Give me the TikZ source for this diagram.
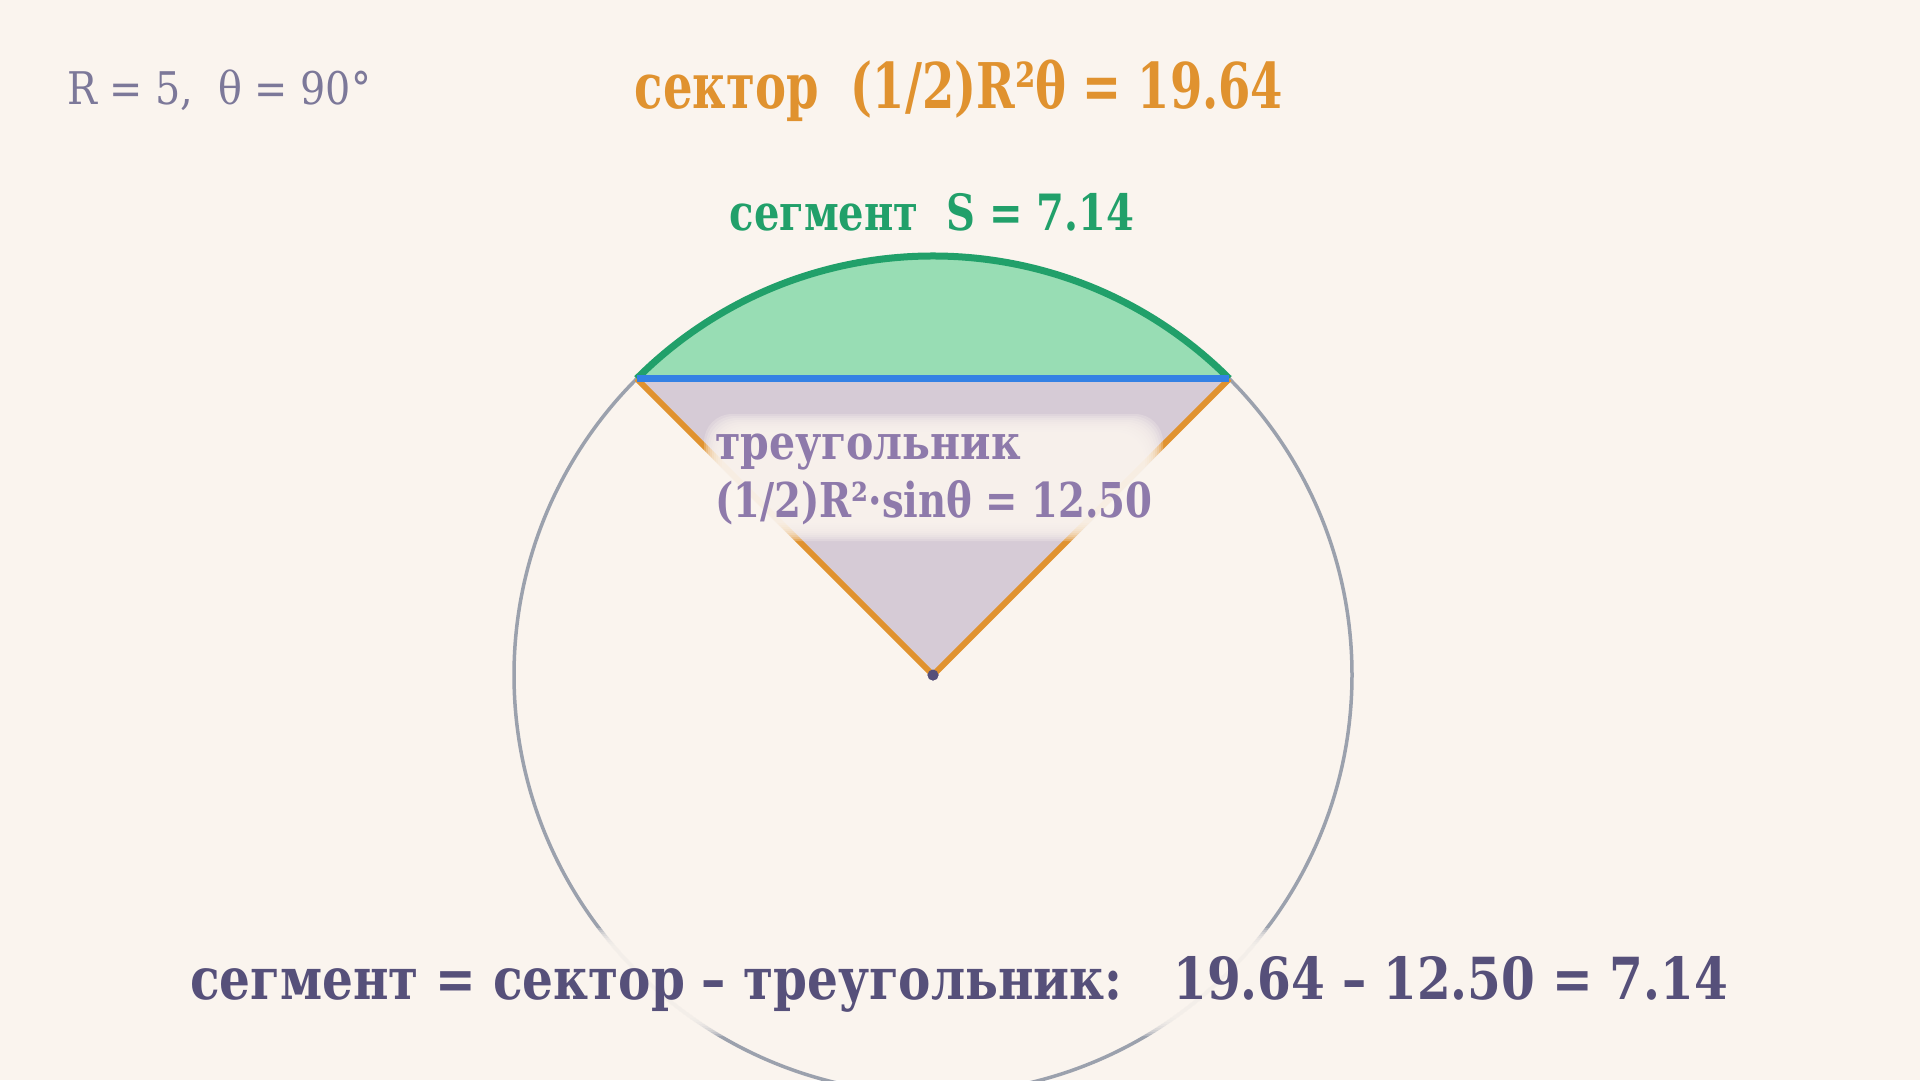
\documentclass[tikz,border=0pt]{standalone}
\usepackage{fontspec}
\usepackage{graphicx}
\setmainfont{DejaVu Serif Condensed}
\usetikzlibrary{positioning}

\definecolor{bgcol}{HTML}{FAF4EE}
\definecolor{paramcol}{HTML}{7C7899}
\definecolor{sectorcol}{HTML}{E0922F}
\definecolor{segcol}{HTML}{21A06A}
\definecolor{segfill}{HTML}{98DDB4}
\definecolor{chordcol}{HTML}{3481E4}
\definecolor{trifill}{HTML}{D6CBD6}
\definecolor{tricol}{HTML}{8E7AAB}
\definecolor{darkcol}{HTML}{56507A}
\definecolor{circcol}{HTML}{9BA1AD}

\newcommand{\squeeze}[2]{\scalebox{#1}[1]{#2}}

\tikzset{
  txt/.style={inner sep=0pt, outer sep=0pt},
  halo/.style={fill=bgcol, opacity=0.25, rounded corners=28pt},
}

\begin{document}
\begin{tikzpicture}[x=1pt, y=-1pt, line join=round]
    % Background
    \fill[bgcol] (0,0) rectangle (1920,1080);
    \clip (0,0) rectangle (1920,1080);

    \def\rad{419pt}
    % Points
    \node[circle, fill=darkcol, inner sep=0pt, minimum size=11pt] (centre) at (933,675) {};
    \coordinate (chordL) at (636.7,378.7);
    \coordinate (chordR) at (1229.3,378.7);

    % Circle
    \draw[circcol, line width=3.5pt] (centre.center) circle[radius=\rad];

    % Triangle and segment
    \fill[trifill] (centre.center) -- (chordL) -- (chordR) -- cycle;
    \fill[segfill] (chordL) arc[start angle=135, end angle=45, radius=\rad] -- cycle;
    \draw[segcol, line width=7pt] (chordL) arc[start angle=135, end angle=45, radius=\rad];
    \draw[sectorcol, line width=6pt] (chordL) -- (centre.center) -- (chordR);
    \draw[chordcol, line width=7pt] (chordL) -- (chordR);
    \fill[darkcol] (centre) circle[radius=5.5pt];

    % Halos
    \foreach \k in {0,...,9} {
        \fill[halo] ({704+2*\k},{414+2*\k}) rectangle ({1163-2*\k},{541-2*\k});
        \fill[halo] ({172+2*\k},{928+2*\k}) rectangle ({1748-2*\k},{1036-2*\k});
    }

    % Labels
    \node[txt, anchor=base west, text=paramcol, font=\fontsize{45}{54}\selectfont] (params) at (67,104) {\squeeze{0.98}{R = 5,\ \ θ = 90°}};
    \node[txt, anchor=base, text=sectorcol, font=\fontsize{63}{76}\selectfont\bfseries] (sector) at (959,108) {\squeeze{0.82}{сектор\ \ (1/2)R²θ = 19.64}};
    \node[txt, anchor=base, text=segcol, font=\fontsize{50}{60}\selectfont\bfseries] (segment) at (932,230) {\squeeze{0.89}{сегмент\ \ S = 7.14}};
    \node[txt, anchor=base west, text=tricol, font=\fontsize{48}{58}\selectfont\bfseries] (tri1) at (715,459) {\squeeze{0.95}{треугольник}};
    \node[txt, anchor=base west, text=tricol, font=\fontsize{48}{58}\selectfont\bfseries] (tri2) at (715,517) {\squeeze{0.895}{(1/2)R²·sinθ = 12.50}};
    \node[txt, anchor=base, text=darkcol, font=\fontsize{58}{70}\selectfont\bfseries] (summary) at (959,999) {\squeeze{0.93}{сегмент = сектор – треугольник:\ \ \ 19.64 – 12.50 = 7.14}};
\end{tikzpicture}
\end{document}
